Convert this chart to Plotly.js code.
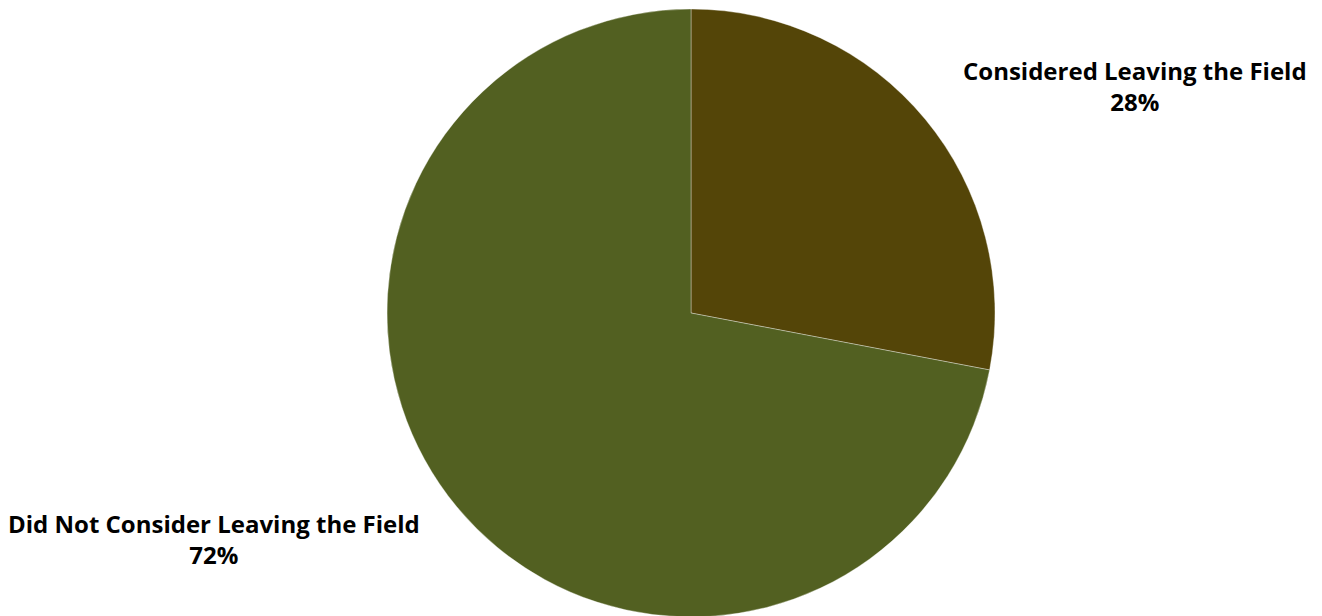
<!DOCTYPE html>
<html>
<head>
<meta charset="utf-8">
<script src="https://cdn.plot.ly/plotly-3.0.1.min.js"></script>
<style>html,body{margin:0;padding:0;background:#fff;overflow:hidden;}#chart{width:1322px;height:620px;}</style>
</head>
<body>
<div id="chart"></div>
<script>
const categories = ["Considered Leaving the Field", "Did Not Consider Leaving the Field"];
const values = [28, 72];
const colors = ["#544508", "#526021"];

const total = values.reduce((a, b) => a + b, 0);
const pct = values.map(v => Math.round(v / total * 100) + "%");

const H = 620;
const labelPos = [
  {x: 1135 / 1322, y: 1 - 86 / H},
  {x: 214 / 1322, y: 1 - 539 / H}
];

const font = {family: "'Open Sans', sans-serif", size: 24, color: "#000"};

const annotations = categories.map((c, i) => ({
  xref: "paper", yref: "paper",
  x: labelPos[i].x, y: labelPos[i].y,
  xanchor: "center", yanchor: "middle",
  text: "<b>" + c + "</b><br><b>" + pct[i] + "</b>",
  showarrow: false, align: "center",
  font: font
}));

Plotly.newPlot("chart", [{
  type: "pie",
  labels: categories,
  values: values,
  sort: false,
  direction: "clockwise",
  rotation: 0,
  textinfo: "none",
  hoverinfo: "label+percent",
  marker: {colors: colors, line: {color: "rgba(255,255,255,0.35)", width: 1}},
  domain: {x: [(691 - 304) / 1322, (691 + 304) / 1322], y: [1 - 617 / H, 1 - 9 / H]}
}], {
  width: 1322, height: H,
  margin: {l: 0, r: 0, t: 0, b: 0},
  showlegend: false,
  paper_bgcolor: "#fff",
  annotations: annotations
}, {displayModeBar: false, staticPlot: true});
</script>
</body>
</html>
